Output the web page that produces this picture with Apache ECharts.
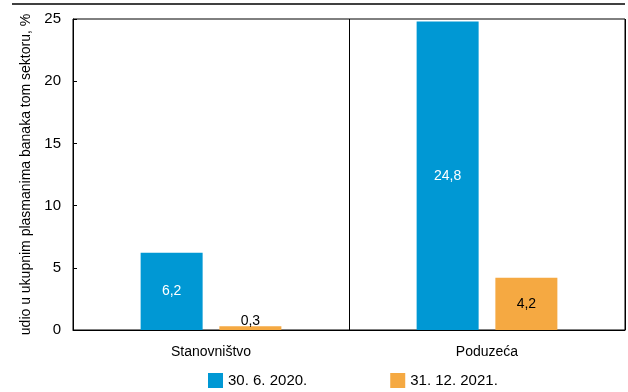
<!DOCTYPE html>
<html>
<head>
<meta charset="utf-8">
<script src="https://cdn.jsdelivr.net/npm/echarts@6/dist/echarts.min.js"></script>
<style>
  html, body { margin: 0; padding: 0; background: #fff; }
  #chart { width: 628px; height: 392px; }
</style>
</head>
<body>
<div id="chart"></div>
<script>
var categories = ['Stanovništvo', 'Poduzeća']
var seriesNames = ['30. 6. 2020.', '31. 12. 2021.']
var values2020 = [6.2, 24.8]
var values2021 = [0.3, 4.2]
var yTicks = [0, 5, 10, 15, 20, 25]

var font = '"Liberation Sans Narrow", "Liberation Sans", Arial, sans-serif'

var chart = echarts.init(document.getElementById('chart'))

function fmt(v) {
  return String(v).replace('.', ',')
}

chart.setOption({
  animation: false,
  textStyle: { fontFamily: font },
  graphic: [{
    type: 'line',
    shape: { x1: 12, y1: 4, x2: 625, y2: 4 },
    style: { stroke: '#000', lineWidth: 1.5 }
  }],
  legend: {
    bottom: -1,
    left: 203,
    itemGap: 83,
    itemWidth: 15,
    itemHeight: 15,
    icon: 'rect',
    textStyle: { fontFamily: font, fontSize: 15, color: '#000' },
    data: seriesNames
  },
  grid: {
    left: 73,
    right: 3,
    top: 19,
    bottom: 62,
    show: true,
    borderColor: '#000',
    borderWidth: 1
  },
  xAxis: {
    type: 'category',
    data: categories,
    axisLine: { lineStyle: { color: '#000' } },
    axisTick: { show: false },
    axisLabel: { color: '#000', fontSize: 14, fontFamily: font, margin: 15 },
    splitLine: { show: true, lineStyle: { color: '#000', width: 1 } }
  },
  yAxis: {
    type: 'value',
    min: yTicks[0],
    max: yTicks[yTicks.length - 1],
    interval: 5,
    name: 'udio u ukupnim plasmanima banaka tom sektoru, %',
    nameLocation: 'middle',
    nameGap: 40,
    nameTextStyle: { color: '#000', fontSize: 14, fontFamily: font },
    axisLine: { show: true, lineStyle: { color: '#000' } },
    axisTick: { show: true, inside: true, length: 4, lineStyle: { color: '#000' } },
    axisLabel: { color: '#000', fontSize: 15, fontFamily: font, margin: 12 },
    splitLine: { show: false }
  },
  series: [{
    name: seriesNames[0],
    type: 'bar',
    barWidth: 62,
    barGap: '27%',
    itemStyle: { color: '#0098d4' },
    label: {
      show: true,
      position: 'inside',
      color: '#fff',
      fontSize: 14,
      fontFamily: font,
      formatter: function(p) { return fmt(p.value) }
    },
    data: values2020
  }, {
    name: seriesNames[1],
    type: 'bar',
    barWidth: 62,
    barGap: '27%',
    itemStyle: { color: '#f5a942' },
    label: {
      show: true,
      position: 'inside',
      color: '#000',
      fontSize: 14,
      fontFamily: font,
      formatter: function(p) { return fmt(p.value) }
    },
    data: values2021.map(function(v) {
      if (v < 1) {
        return { value: v, label: { position: 'top', distance: -2 } }
      }
      return v
    })
  }]
})
</script>
</body>
</html>
